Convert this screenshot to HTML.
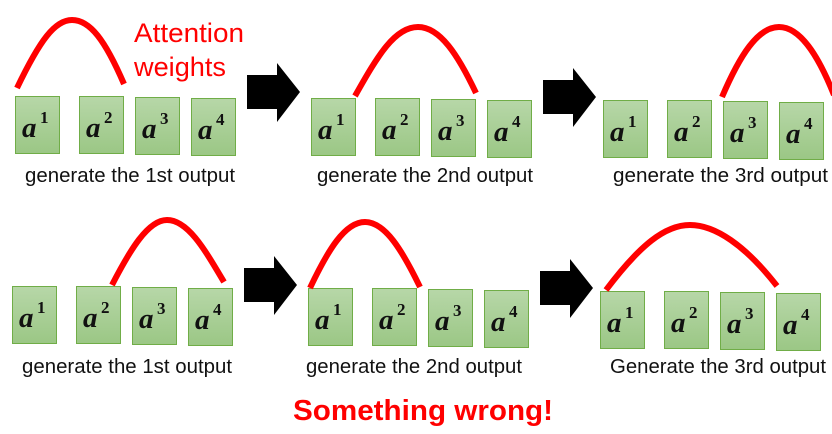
<!DOCTYPE html>
<html><head><meta charset="utf-8"><style>
html,body{margin:0;padding:0;background:#fff;}
svg{display:block;}
text{font-family:"Liberation Sans",sans-serif;}
.lbl{font-size:20px;fill:#111;}
.a{font-family:"Liberation Serif",serif;font-weight:bold;font-style:italic;font-size:29px;fill:#111;}
.s{font-family:"Liberation Serif",serif;font-weight:bold;font-size:17px;fill:#111;}
</style></head><body>
<svg width="832" height="434" viewBox="0 0 832 434" xmlns="http://www.w3.org/2000/svg">
<defs>
<linearGradient id="g" x1="0" y1="0" x2="0" y2="1"><stop offset="0" stop-color="#b7d7a8"/><stop offset="1" stop-color="#9bc785"/></linearGradient>
<g id="grp">
 <rect x="0.5" y="0.5" width="44" height="57" fill="url(#g)" stroke="#70ad47"/>
 <text class="a" x="7" y="41">a</text><text class="s" x="25" y="27">1</text>
 <rect x="64.5" y="0.5" width="44" height="57" fill="url(#g)" stroke="#70ad47"/>
 <text class="a" x="71" y="41">a</text><text class="s" x="89" y="27">2</text>
 <rect x="120.5" y="1.5" width="44" height="57" fill="url(#g)" stroke="#70ad47"/>
 <text class="a" x="127" y="42">a</text><text class="s" x="145" y="28">3</text>
 <rect x="176.5" y="2.5" width="44" height="57" fill="url(#g)" stroke="#70ad47"/>
 <text class="a" x="183" y="43">a</text><text class="s" x="201" y="29">4</text>
</g>
<polygon id="arr" points="0,0 30,0 30,-12 53,17 30,47 30,34 0,34" fill="#000"/>
</defs>
<use href="#grp" x="15" y="96"/>
<use href="#grp" x="311" y="98"/>
<use href="#grp" x="603" y="100"/>
<path d="M17,88 C40,40 55,20 72,20 C90,20 105,40 124,84" fill="none" stroke="#f00" stroke-width="6"/>
<path d="M355,96 C378,55 395,27 418,27 C440,27 458,55 476,93" fill="none" stroke="#f00" stroke-width="6"/>
<path d="M722,97 C740,55 758,27 779,27 C800,27 818,55 834,95" fill="none" stroke="#f00" stroke-width="6"/>
<text x="134" y="42" fill="#f00" font-size="27" textLength="110" lengthAdjust="spacingAndGlyphs">Attention</text>
<text x="134" y="76" fill="#f00" font-size="27" textLength="92" lengthAdjust="spacingAndGlyphs">weights</text>
<use href="#arr" x="247" y="75"/>
<use href="#arr" x="543" y="80"/>
<text class="lbl" x="25" y="182" textLength="210" lengthAdjust="spacingAndGlyphs">generate the 1st output</text>
<text class="lbl" x="317" y="182" textLength="216" lengthAdjust="spacingAndGlyphs">generate the 2nd output</text>
<text class="lbl" x="613" y="182" textLength="215" lengthAdjust="spacingAndGlyphs">generate the 3rd output</text>
<use href="#grp" x="12" y="286"/>
<use href="#grp" x="308" y="288"/>
<use href="#grp" x="600" y="291"/>
<path d="M112,285 C130,250 148,220 167,220 C188,220 205,250 224,282" fill="none" stroke="#f00" stroke-width="6"/>
<path d="M310,288 C328,250 345,222 365,222 C385,222 402,250 420,287" fill="none" stroke="#f00" stroke-width="6"/>
<path d="M606,290 C640,245 665,225 690,225 C715,225 745,245 777,286" fill="none" stroke="#f00" stroke-width="6"/>
<use href="#arr" x="244" y="268"/>
<use href="#arr" x="540" y="271"/>
<text class="lbl" x="22" y="373" textLength="210" lengthAdjust="spacingAndGlyphs">generate the 1st output</text>
<text class="lbl" x="306" y="373" textLength="216" lengthAdjust="spacingAndGlyphs">generate the 2nd output</text>
<text class="lbl" x="610" y="373" textLength="216" lengthAdjust="spacingAndGlyphs">Generate the 3rd output</text>
<text x="293" y="420" fill="#f00" font-size="29" font-weight="bold" textLength="260" lengthAdjust="spacingAndGlyphs">Something wrong!</text>
</svg>
</body></html>
